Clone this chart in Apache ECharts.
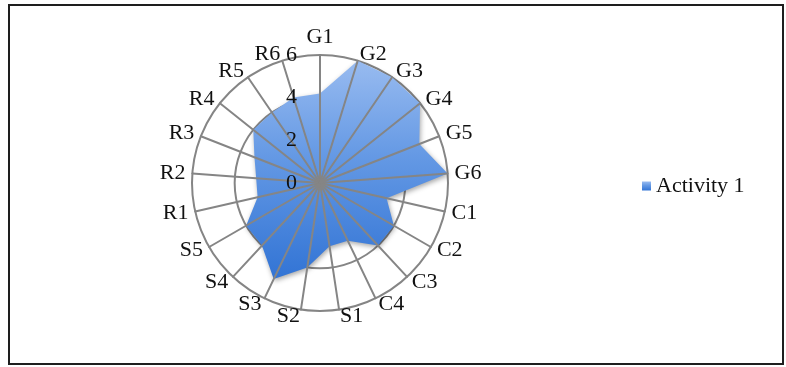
<!DOCTYPE html>
<html>
<head>
<meta charset="utf-8">
<script src="https://cdn.jsdelivr.net/npm/echarts@6/dist/echarts.min.js"></script>
<style>
  html, body { margin: 0; padding: 0; background: #ffffff; }
  #wrap { position: relative; width: 786px; height: 367px; }
  #chart { position: absolute; left: 0; top: 0; width: 786px; height: 367px; }
  #frame { position: absolute; left: 8px; top: 4px; width: 772px; height: 357px;
           border: 2px solid #1e1e1e; pointer-events: none; }
</style>
</head>
<body>
<div id="wrap">
  <div id="chart"></div>
  <div id="frame"></div>
</div>
<script>
// Spokes, clockwise from the top
const categories = ['G1', 'G2', 'G3', 'G4', 'G5', 'G6',
                    'C1', 'C2', 'C3', 'C4',
                    'S1', 'S2', 'S3', 'S4', 'S5',
                    'R1', 'R2', 'R3', 'R4', 'R5', 'R6'];
const seriesName = 'Activity 1';
const activity1 = [4.2, 6, 6, 6, 5, 6,
                   3.2, 4, 4, 3,
                   3, 4, 5, 4, 4,
                   3, 3, 3.3, 4, 4, 4.2];
const radialTicks = [0, 2, 4, 6];

const axisMax = radialTicks[radialTicks.length - 1];
const tickStep = radialTicks[1] - radialTicks[0];
const FONT = 'Liberation Serif';
const FONT_SIZE = 22;
const CENTER = [320, 183];
const RADIUS = 128;
const GRID = '#858585';

// ECharts lays radar spokes out counter-clockwise; reorder so they run clockwise.
const n = categories.length;
const order = categories.map((_, k) => (k === 0 ? 0 : n - k));
const indicators = order.map(i => ({ name: categories[i], min: 0, max: axisMax }));
const values = order.map(i => activity1[i]);

const fill = new echarts.graphic.LinearGradient(0, 0, 0, 1, [
  { offset: 0, color: '#98bbf0' },
  { offset: 0.45, color: '#6398e4' },
  { offset: 1, color: '#3274d5' }
]);

const chart = echarts.init(document.getElementById('chart'), null, { renderer: 'canvas' });
chart.setOption({
  animation: false,
  backgroundColor: '#ffffff',
  legend: {
    data: [seriesName],
    orient: 'vertical',
    left: 637,
    top: 170,
    icon: 'rect',
    itemWidth: 9,
    itemHeight: 9,
    itemGap: 4,
    textStyle: { fontFamily: FONT, fontSize: FONT_SIZE, color: '#111' }
  },
  radar: [
    {
      // rings (drawn beneath the filled area) and spoke names
      center: CENTER,
      radius: RADIUS,
      shape: 'circle',
      splitNumber: axisMax / tickStep,
      indicator: indicators,
      nameGap: 7,
      axisName: { color: '#111', fontFamily: FONT, fontSize: FONT_SIZE },
      axisLine: { show: false },
      splitLine: { lineStyle: { color: GRID, width: 2 } },
      splitArea: { show: false },
      z: 0
    },
    {
      // spokes drawn over the filled area
      center: CENTER,
      radius: RADIUS,
      shape: 'circle',
      splitNumber: axisMax / tickStep,
      indicator: indicators,
      axisName: { show: false },
      axisLine: { lineStyle: { color: GRID, width: 2 } },
      splitLine: { show: false },
      splitArea: { show: false },
      z: 3
    }
  ],
  polar: { center: CENTER, radius: RADIUS },
  angleAxis: { show: false, min: 0, max: 360 },
  radiusAxis: {
    min: 0,
    max: axisMax,
    interval: tickStep,
    axisLine: { show: false },
    axisTick: { show: false },
    splitLine: { show: false },
    splitArea: { show: false },
    axisLabel: { margin: 23, padding: [8, 0, 0, 0], fontFamily: FONT, fontSize: FONT_SIZE, color: '#111' },
    z: 4
  },
  series: [{
    type: 'radar',
    name: seriesName,
    radarIndex: 0,
    symbol: 'none',
    z: 2,
    lineStyle: { width: 0 },
    itemStyle: { color: fill },
    areaStyle: {
      color: fill,
      opacity: 1,
      shadowBlur: 5,
      shadowColor: 'rgba(0,0,0,0.35)',
      shadowOffsetX: 1,
      shadowOffsetY: 2
    },
    data: [{ name: seriesName, value: values }]
  }]
});
</script>
</body>
</html>
